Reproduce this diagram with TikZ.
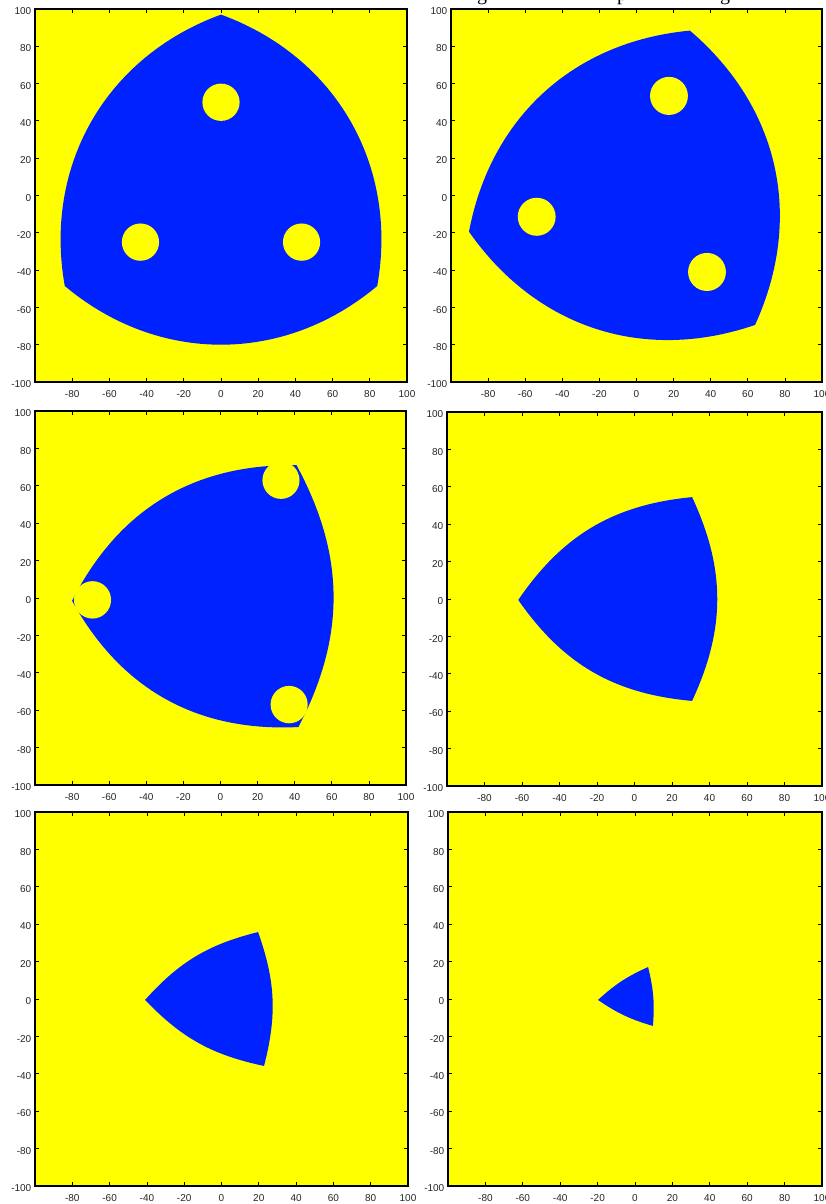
\documentclass[tikz,border=0pt]{standalone}
\usepackage{fontspec}
\newfontfamily\axfont{Liberation Sans}
\newfontfamily\ttlfont{Liberation Serif}
\definecolor{bgyellow}{RGB}{255,255,0}
\definecolor{shapeblue}{RGB}{0,34,255}
\tikzset{
  bg/.style={fill=bgyellow},
  blob/.style={fill=shapeblue},
  hole/.style={fill=bgyellow},
  frame/.style={draw=black, line width=1.3pt},
  frameheavy/.style={draw=black, line width=2.2pt, line cap=rect},
  tickmark/.style={draw=black, line width=0.8pt},
  xlab/.style={anchor=base, inner sep=0pt, yshift=-15.5pt,
    font=\axfont\fontsize{10}{12}\selectfont, text=black!85},
  ylab/.style={anchor=east, inner sep=0pt, text height=7.2pt, text depth=0pt,
    xshift=-3.5pt, yshift=-2pt,
    font=\axfont\fontsize{10}{12}\selectfont, text=black!85},
  ttl/.style={anchor=base, inner sep=0pt, font=\ttlfont\fontsize{20}{24}\selectfont},
}
\newcommand\axesdeco[1]{%
  \draw[frame] (-100,-100) rectangle (100,100);
  \draw[frameheavy] (-100,-100) -- (100,-100) -- (100,100);
  \foreach \t in {-80,-60,...,80}{
    \draw[tickmark] (\t,-100) -- ++(0,4pt);
    \draw[tickmark] (\t,100) -- ++(0,-4pt);
    \draw[tickmark] (-100,\t) -- ++(4pt,0);
    \draw[tickmark] (100,\t) -- ++(-4pt,0);
  }
  \foreach \t [count=\k] in {-80,-60,...,100}
    \node[xlab] (#1x\k) at (\t,-100) {\t};
  \foreach \t [count=\k] in {-100,-80,...,100}
    \node[ylab] (#1y\k) at (-100,\t) {\t};
}
\begin{document}
\begin{tikzpicture}[x=1pt,y=-1pt]
\useasboundingbox (0,0) rectangle (826,1204);
\fill[white] (0,0) rectangle (826,1204);
% title fragments (only their lower parts show at the top edge)
\begin{scope}
\clip (0,0) rectangle (826,1204);
\node[ttl] (t1) at (482,1) {g};
\node[ttl] (t2) at (622,1) {p};
\node[ttl] (t3) at (725,1) {g};
\end{scope}
% Panel 1
\begin{scope}[shift={(221,195.5)}, x=1.86pt, y=1.865pt]
  \fill[bg] (-100,-100) rectangle (100,100);
  \fill[blob] (0,97) to[bend right=40] (-84,-48.5) to[bend right=40] (84,-48.5) to[bend right=40] (0,97) -- cycle;
  \fill[hole] (0,50) circle (10) (-43.3,-25) circle (10) (43.3,-25) circle (10);
  \axesdeco{pA}
\end{scope}
% Panel 2
\begin{scope}[shift={(636.5,195.5)}, x=1.855pt, y=1.865pt]
  \fill[bg] (-100,-100) rectangle (100,100);
  \fill[blob] (28.8,88.4) to[bend right=37] (-90.3,-19.4) to[bend right=37] (63.9,-69.4) to[bend right=37] (28.8,88.4) -- cycle;
  \fill[hole] (17.5,53.4) circle (10.2) (-53.8,-11.4) circle (10.2) (38,-41) circle (10.2);
  \axesdeco{pB}
\end{scope}
% Panel 3
\begin{scope}[shift={(220.5,598)}, x=1.855pt, y=1.87pt]
  \fill[bg] (-100,-100) rectangle (100,100);
  \fill[blob] (41,71) to[bend right=32] (-80,-1.5) to[bend right=32] (42,-69) to[bend right=28] (41,71) -- cycle;
  \fill[hole] (32.6,63) circle (10) (-69,-1) circle (10) (37,-57) circle (10);
  \axesdeco{pC}
\end{scope}
% Panel 4
\begin{scope}[shift={(634.5,599)}, x=1.875pt, y=1.87pt]
  \fill[bg] (-100,-100) rectangle (100,100);
  \fill[blob] (30.7,54.5) to[bend right=25] (-62,-0.5) to[bend right=25] (30.7,-54.5) to[bend right=25] (30.7,54.5) -- cycle;
  \axesdeco{pD}
\end{scope}
% Panel 5
\begin{scope}[shift={(221.5,999)}, x=1.865pt, y=1.87pt]
  \fill[bg] (-100,-100) rectangle (100,100);
  \fill[blob] (19.6,35.8) to[bend right=17] (-41,-0.5) to[bend right=17] (22.8,-35.8) to[bend right=17] (19.6,35.8) -- cycle;
  \axesdeco{pE}
\end{scope}
% Panel 6
\begin{scope}[shift={(635,999)}, x=1.87pt, y=1.87pt]
  \fill[bg] (-100,-100) rectangle (100,100);
  \fill[blob] (7,17.1) to[bend right=9] (-19.8,-0.5) to[bend right=9] (9.6,-14.4) to[bend right=9] (7,17.1) -- cycle;
  \axesdeco{pF}
\end{scope}
\end{tikzpicture}
\end{document}
